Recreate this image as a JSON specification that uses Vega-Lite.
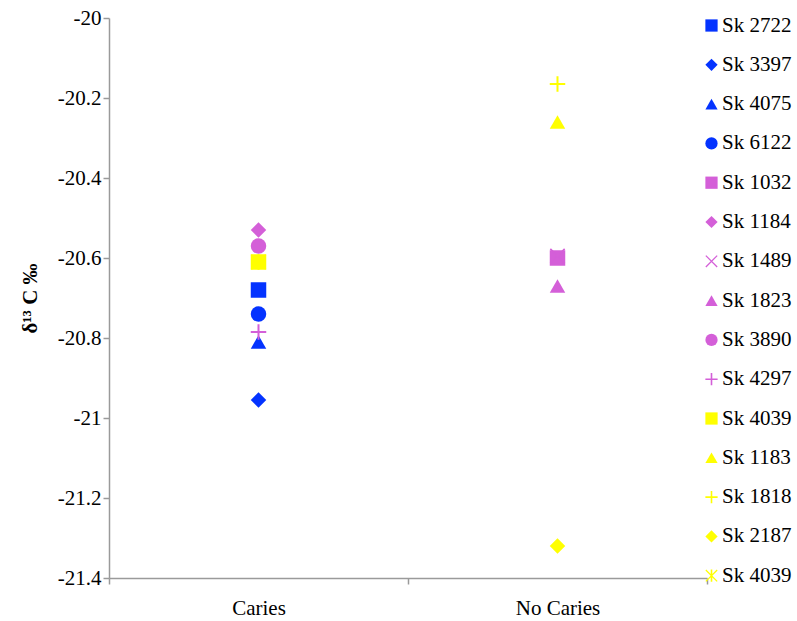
{
  "$schema": "https://vega.github.io/schema/vega-lite/v6.json",
  "width": 598,
  "height": 560,
  "autosize": "none",
  "padding": {"left": 109, "top": 18, "right": 90, "bottom": 43},
  "background": "white",
  "config": {
    "view": {"stroke": null},
    "font": "Liberation Serif",
    "axis": {
      "domainColor": "#9a9a9a",
      "tickColor": "#9a9a9a",
      "domainWidth": 1.5,
      "tickWidth": 1.5,
      "grid": false,
      "labelFont": "Liberation Serif",
      "labelFontSize": 21,
      "labelColor": "#000000",
      "tickSize": 6
    }
  },
  "data": {
    "values": [
      {"sample": "Sk 2722", "group": "Caries", "d13C": -20.68},
      {"sample": "Sk 3397", "group": "Caries", "d13C": -20.955},
      {"sample": "Sk 4075", "group": "Caries", "d13C": -20.81},
      {"sample": "Sk 6122", "group": "Caries", "d13C": -20.74},
      {"sample": "Sk 1032", "group": "No Caries", "d13C": -20.6},
      {"sample": "Sk 1184", "group": "Caries", "d13C": -20.53},
      {"sample": "Sk 1489", "group": "No Caries", "d13C": -20.595},
      {"sample": "Sk 1823", "group": "No Caries", "d13C": -20.67},
      {"sample": "Sk 3890", "group": "Caries", "d13C": -20.57},
      {"sample": "Sk 4297", "group": "Caries", "d13C": -20.785},
      {"sample": "Sk 4039", "group": "Caries", "d13C": -20.61},
      {"sample": "Sk 1183", "group": "No Caries", "d13C": -20.26},
      {"sample": "Sk 1818", "group": "No Caries", "d13C": -20.165},
      {"sample": "Sk 2187", "group": "No Caries", "d13C": -21.32},
      {"sample": "Sk 4039*", "group": "Caries", "d13C": -20.61}
    ]
  },
  "mark": {"type": "point", "filled": true, "opacity": 1, "size": 240, "strokeWidth": 0},
  "encoding": {
    "x": {
      "field": "group",
      "type": "nominal",
      "scale": {"paddingInner": 0, "paddingOuter": 0},
      "axis": {"title": null, "labelAngle": 0, "tickBand": "extent", "labelPadding": 13, "labelFont": "Liberation Serif", "labelFontSize": 21}
    },
    "y": {
      "field": "d13C",
      "type": "quantitative",
      "scale": {"domain": [-21.4, -20], "nice": false, "zero": false},
      "axis": {
        "values": [-21.4, -21.2, -21, -20.8, -20.6, -20.4, -20.2, -20],
        "labelExpr": "replace(format(datum.value, '.1~f'), '\u2212', '-')",
        "labelPadding": 2,
        "labelFont": "Liberation Serif",
        "labelFontSize": 21,
        "title": "δ¹³ C ‰",
        "titleFont": "Liberation Serif",
        "titleFontSize": 21,
        "titleFontWeight": "bold",
        "titleColor": "#000000",
        "titlePadding": 17
      }
    },
    "color": {
      "field": "sample",
      "type": "nominal",
      "sort": null,
      "scale": {
        "domain": ["Sk 2722", "Sk 3397", "Sk 4075", "Sk 6122", "Sk 1032", "Sk 1184", "Sk 1489", "Sk 1823", "Sk 3890", "Sk 4297", "Sk 4039", "Sk 1183", "Sk 1818", "Sk 2187", "Sk 4039*"],
        "range": ["#0433FF", "#0433FF", "#0433FF", "#0433FF", "#D45FD8", "#D45FD8", "#D45FD8", "#D45FD8", "#D45FD8", "#D45FD8", "#FFFF00", "#FFFF00", "#FFFF00", "#FFFF00", "#FFFF00"]
      },
      "legend": {
        "title": null,
        "orient": "none",
        "legendX": 592,
        "legendY": -3,
        "padding": 0,
        "symbolSize": 150,
        "symbolStrokeWidth": 0,
        "labelFont": "Liberation Serif",
        "labelFontSize": 21,
        "labelColor": "#000000",
        "labelOffset": 0,
        "rowPadding": 17.3,
        "labelExpr": "replace(datum.label, '*', '')"
      }
    },
    "shape": {
      "field": "sample",
      "type": "nominal",
      "sort": null,
      "scale": {
        "domain": ["Sk 2722", "Sk 3397", "Sk 4075", "Sk 6122", "Sk 1032", "Sk 1184", "Sk 1489", "Sk 1823", "Sk 3890", "Sk 4297", "Sk 4039", "Sk 1183", "Sk 1818", "Sk 2187", "Sk 4039*"],
        "range": [
          "square", "diamond", "triangle-up", "circle",
          "square", "diamond",
          "M-0.85,-1L1,0.85L0.85,1L-1,-0.85Z M0.85,-1L1,-0.85L-0.85,1L-1,0.85Z",
          "triangle-up", "circle",
          "M-1,-0.13H1V0.13H-1Z M-0.13,-1H0.13V1H-0.13Z",
          "square", "triangle-up",
          "M-1,-0.13H1V0.13H-1Z M-0.13,-1H0.13V1H-0.13Z",
          "diamond",
          "M-0.85,-1L1,0.85L0.85,1L-1,-0.85Z M0.85,-1L1,-0.85L-0.85,1L-1,0.85Z M-0.13,-1H0.13V1H-0.13Z"
        ]
      }
    }
  }
}
